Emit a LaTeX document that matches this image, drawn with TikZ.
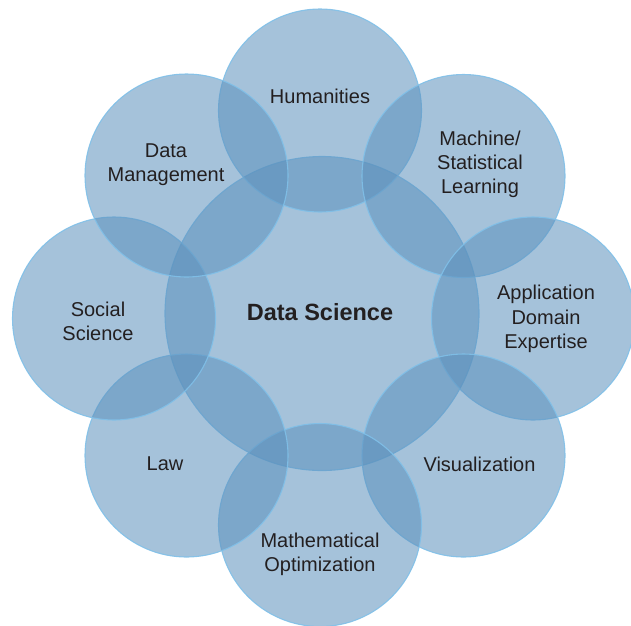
\documentclass[tikz,border=0pt]{standalone}
\usepackage{fontspec}
\setmainfont{Liberation Sans}
\definecolor{ringfill}{RGB}{91,144,188}
\definecolor{ringedge}{RGB}{128,192,232}
\definecolor{txt}{RGB}{35,31,32}
\begin{document}
\begin{tikzpicture}[x=1pt,y=-1pt,
  bubble/.style={circle,inner sep=0pt,minimum size=203pt,fill=ringfill,fill opacity=0.55,draw=ringedge,draw opacity=0.9,line width=1.1pt},
  hub/.style={bubble,minimum size=314pt},
  lbl/.style={align=center,text=txt,font=\fontsize{20}{24.3}\selectfont,inner sep=0pt},
  hublbl/.style={align=center,text=txt,font=\fontsize{23.5}{28}\selectfont\bfseries,inner sep=0pt}]
\useasboundingbox (0,0) rectangle (631,625);
\node[hub] (ds) at (322,313.5) {};
\node[bubble] (hum) at (320,110.5) {};
\node[bubble] (ml) at (463.5,176) {};
\node[bubble] (app) at (533,318.5) {};
\node[bubble] (vis) at (463.5,455.5) {};
\node[bubble] (math) at (320,525) {};
\node[bubble] (law) at (186.5,455.5) {};
\node[bubble] (soc) at (114,318.5) {};
\node[bubble] (dm) at (186.5,175.5) {};
\node[hublbl] (tds) at (320,312.5) {Data Science};
\node[lbl] (thum) at (320,96) {Humanities};
\node[lbl] (tml) at (480,164.5) {Machine/\\Statistical\\Learning};
\node[lbl] (tapp) at (546,319) {Application\\Domain\\Expertise};
\node[lbl] (tvis) at (479.5,464) {Visualization};
\node[lbl] (tmath) at (320,554) {Mathematical\\Optimization};
\node[lbl] (tlaw) at (165,464) {Law};
\node[lbl] (tsoc) at (98,321) {Social\\Science};
\node[lbl] (tdm) at (166,164.5) {Data\\Management};
\end{tikzpicture}
\end{document}
